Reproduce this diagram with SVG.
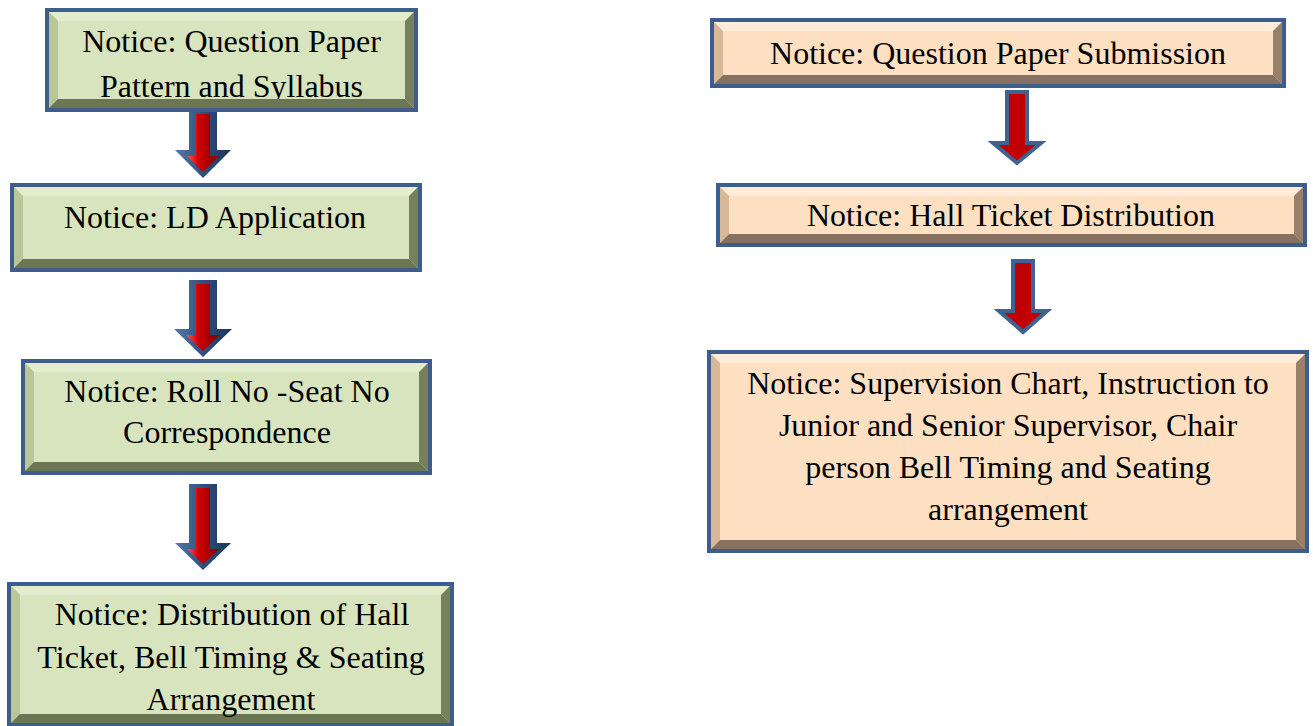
<svg xmlns="http://www.w3.org/2000/svg" width="1313" height="726" viewBox="0 0 1313 726">
<style>
  .brd{fill:#3D5E8C}
  .g-f{fill:#D7E4BD}.g-t{fill:#E3ECCC}.g-l{fill:#B8C699}.g-r{fill:#76815B}.g-b{fill:#6B7652}
  .p-f{fill:#FDE0C2}.p-t{fill:#FEEBD9}.p-l{fill:#D9B897}.p-r{fill:#9A8069}.p-b{fill:#877160}
  text{font-family:"Liberation Serif","Times New Roman",serif;font-size:32px;fill:#000;text-anchor:middle}
  .a3o{fill:url(#navy)}
  .a3i{fill:url(#redg)}
  .flat{fill:#C00000;stroke:#3F6293;stroke-width:4;stroke-linejoin:miter}
</style>
<defs>
  <linearGradient id="redg" x1="0" y1="0" x2="1" y2="0">
    <stop offset="0" stop-color="#FF5A5A"/>
    <stop offset="0.35" stop-color="#D40000"/>
    <stop offset="1" stop-color="#7A0000"/>
  </linearGradient>
  <linearGradient id="navy" x1="0" y1="0" x2="1" y2="0">
    <stop offset="0" stop-color="#5878A8"/>
    <stop offset="0.5" stop-color="#2F4F7E"/>
    <stop offset="1" stop-color="#1C3358"/>
  </linearGradient>
</defs>

<g id="connectors">
  <g id="arrow1">
    <polygon class="a3o" points="189,112 217,112 217,150 231,150 203,178 175,150 189,150"/>
    <polygon class="a3i" points="196,114 210,114 210,156 219,156 203,172 187,156 196,156"/>
  </g>
  <g id="arrow2">
    <polygon class="a3o" points="189,280 217,280 217,329 232,329 203,357 174,329 189,329"/>
    <polygon class="a3i" points="196,284 210,284 210,335 220,335 203,351 186,335 196,335"/>
  </g>
  <g id="arrow3">
    <polygon class="a3o" points="189,484 217,484 217,543 231,543 203,570 175,543 189,543"/>
    <polygon class="a3i" points="196,488 210,488 210,549 219,549 203,564 187,549 196,549"/>
  </g>
  <g id="arrow4">
    <polygon class="flat" points="1007,92 1027,92 1027,143 1041,143 1017,163 993,143 1007,143"/>
  </g>
  <g id="arrow5">
    <polygon class="flat" points="1013,261 1033,261 1033,311 1047,311 1023,332 999,311 1013,311"/>
  </g>
</g>

<g id="node1">
  <rect class="brd" x="45" y="8" width="373" height="104"/>
  <rect class="g-f" x="49" y="12" width="365" height="96"/>
  <text x="231.5" y="52">Notice: Question Paper</text>
  <text x="231.5" y="97">Pattern and Syllabus</text>
  <polygon class="g-t" points="49,12 414,12 405,21 58,21"/>
  <polygon class="g-l" points="49,12 58,21 58,99 49,108"/>
  <polygon class="g-r" points="414,12 414,108 405,99 405,21"/>
  <polygon class="g-b" points="49,108 414,108 405,99 58,99"/>
</g>

<g id="node2">
  <rect class="brd" x="10" y="183" width="412" height="89"/>
  <rect class="g-f" x="14" y="187" width="404" height="81"/>
  <polygon class="g-t" points="14,187 418,187 409,196 23,196"/>
  <polygon class="g-l" points="14,187 23,196 23,259 14,268"/>
  <polygon class="g-r" points="418,187 418,268 409,259 409,196"/>
  <polygon class="g-b" points="14,268 418,268 409,259 23,259"/>
  <text x="215" y="228">Notice: LD Application</text>
</g>

<g id="node3">
  <rect class="brd" x="21" y="359" width="411" height="116"/>
  <rect class="g-f" x="25" y="363" width="403" height="108"/>
  <polygon class="g-t" points="25,363 428,363 419,372 34,372"/>
  <polygon class="g-l" points="25,363 34,372 34,462 25,471"/>
  <polygon class="g-r" points="428,363 428,471 419,462 419,372"/>
  <polygon class="g-b" points="25,471 428,471 419,462 34,462"/>
  <text x="227" y="402">Notice: Roll No -Seat No</text>
  <text x="227" y="443">Correspondence</text>
</g>

<g id="node4">
  <rect class="brd" x="7" y="582" width="447" height="146"/>
  <rect class="g-f" x="11" y="586" width="439" height="137"/>
  <polygon class="g-t" points="11,586 450,586 441,595 20,595"/>
  <polygon class="g-l" points="11,586 20,595 20,714 11,723"/>
  <polygon class="g-r" points="450,586 450,723 441,714 441,595"/>
  <polygon class="g-b" points="11,723 450,723 441,714 20,714"/>
  <text x="232" y="625">Notice: Distribution of Hall</text>
  <text x="231" y="668">Ticket, Bell Timing &amp; Seating</text>
  <text x="231" y="710">Arrangement</text>
</g>

<g id="node5">
  <rect class="brd" x="710" y="18" width="576" height="70"/>
  <rect class="p-f" x="714" y="22" width="568" height="62"/>
  <polygon class="p-t" points="714,22 1282,22 1273,31 723,31"/>
  <polygon class="p-l" points="714,22 723,31 723,75 714,84"/>
  <polygon class="p-r" points="1282,22 1282,84 1273,75 1273,31"/>
  <polygon class="p-b" points="714,84 1282,84 1273,75 723,75"/>
  <text x="998" y="64">Notice: Question Paper Submission</text>
</g>

<g id="node6">
  <rect class="brd" x="716" y="183" width="591" height="64"/>
  <rect class="p-f" x="720" y="187" width="583" height="56"/>
  <polygon class="p-t" points="720,187 1303,187 1294,196 729,196"/>
  <polygon class="p-l" points="720,187 729,196 729,234 720,243"/>
  <polygon class="p-r" points="1303,187 1303,243 1294,234 1294,196"/>
  <polygon class="p-b" points="720,243 1303,243 1294,234 729,234"/>
  <text x="1011" y="226">Notice: Hall Ticket Distribution</text>
</g>

<g id="node7">
  <rect class="brd" x="707" y="350" width="602" height="203"/>
  <rect class="p-f" x="711" y="354" width="594" height="195"/>
  <polygon class="p-t" points="711,354 1305,354 1296,363 720,363"/>
  <polygon class="p-l" points="711,354 720,363 720,540 711,549"/>
  <polygon class="p-r" points="1305,354 1305,549 1296,540 1296,363"/>
  <polygon class="p-b" points="711,549 1305,549 1296,540 720,540"/>
  <text x="1008" y="394">Notice: Supervision Chart, Instruction to</text>
  <text x="1008" y="436">Junior and Senior Supervisor, Chair</text>
  <text x="1008" y="478">person Bell Timing and Seating</text>
  <text x="1008" y="520">arrangement</text>
</g>
</svg>
